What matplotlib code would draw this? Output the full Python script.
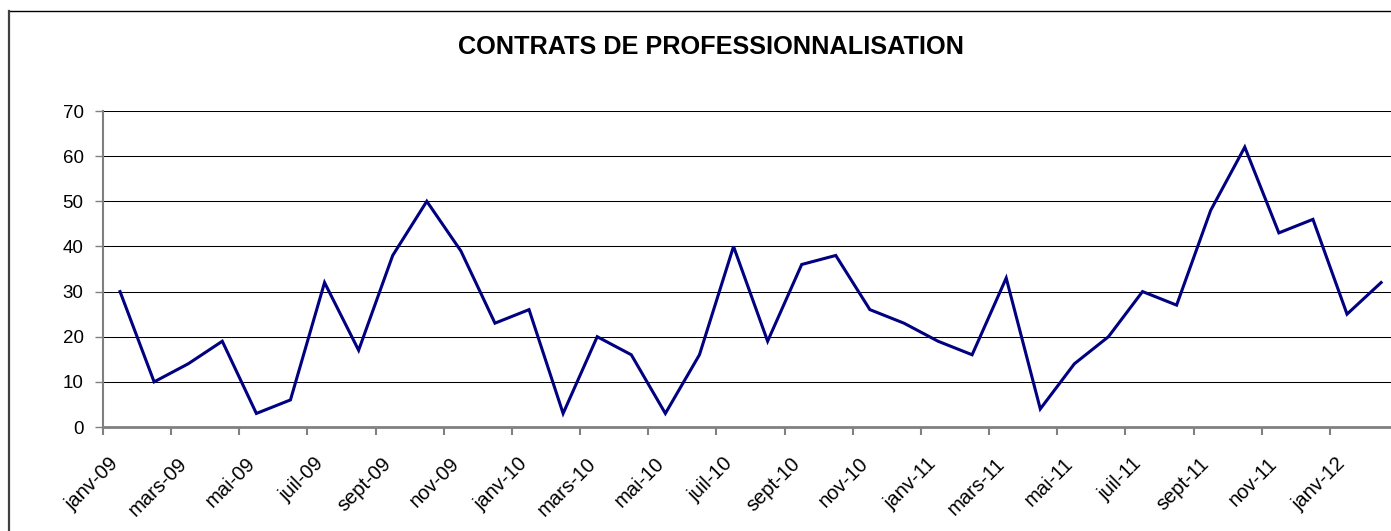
import matplotlib
matplotlib.use("Agg")
import matplotlib.pyplot as plt
import matplotlib.transforms as mtransforms
from matplotlib.lines import Line2D

# monthly values, janv-09 .. fevr-12
months = ["janv-09", "févr-09", "mars-09", "avr-09", "mai-09", "juin-09",
          "juil-09", "août-09", "sept-09", "oct-09", "nov-09", "déc-09",
          "janv-10", "févr-10", "mars-10", "avr-10", "mai-10", "juin-10",
          "juil-10", "août-10", "sept-10", "oct-10", "nov-10", "déc-10",
          "janv-11", "févr-11", "mars-11", "avr-11", "mai-11", "juin-11",
          "juil-11", "août-11", "sept-11", "oct-11", "nov-11", "déc-11",
          "janv-12", "févr-12"]
contrats = [30, 10, 14, 19, 3, 6, 32, 17, 38, 50, 39, 23,
            26, 3, 20, 16, 3, 16, 40, 19, 36, 38, 26, 23,
            19, 16, 33, 4, 14, 20, 30, 27, 48, 62, 43, 46,
            25, 32]
yticks = [0, 10, 20, 30, 40, 50, 60, 70]

plt.rcParams['font.family'] = ['Liberation Sans', 'DejaVu Sans']

def main():
    fig = plt.figure(figsize=(13.91, 5.31), dpi=100)
    ax = fig.add_axes([103/1391, 1 - 427/531, 1 - 103/1391, (427 - 111)/531])

    xs = [i + 0.5 for i in range(len(contrats))]
    ax.plot(xs, contrats, color='#000080', linewidth=2.2, solid_joinstyle='miter',
            clip_on=False)

    ax.set_xlim(0, 37.79)
    ax.set_ylim(0, 70)
    ax.set_yticks(yticks)
    ax.set_yticklabels([str(v) for v in yticks], fontsize=13.5)
    ticks = list(range(0, len(months), 2))
    ax.set_xticks(ticks)
    ax.set_xticklabels([])

    # rotated month labels, ending just right of each tick
    base = mtransforms.blended_transform_factory(ax.transData, ax.transAxes)
    off = mtransforms.ScaledTranslation(6/100, -27/100, fig.dpi_scale_trans)
    for t in ticks:
        ax.text(t, 0, months[t], transform=base + off, fontsize=14.5,
                rotation=45, ha='right', va='top', rotation_mode='anchor',
                clip_on=False)

    ax.grid(axis='y', color='black', linewidth=0.75)
    ax.set_axisbelow(True)
    ax.tick_params(axis='y', direction='out', length=6, width=1, color='#808080',
                   pad=8)
    ax.tick_params(axis='x', direction='out', length=6, width=1.5, color='#808080')
    for s in ['top', 'right']:
        ax.spines[s].set_visible(False)
    ax.spines['left'].set_color('#808080')
    ax.spines['left'].set_linewidth(1.5)
    ax.spines['bottom'].set_color('#808080')
    ax.spines['bottom'].set_linewidth(2)

    fig.text(711/1391, 1 - 54/531, "CONTRATS DE PROFESSIONNALISATION",
             ha='center', va='baseline', fontsize=18.2, fontweight='bold')

    # chart area border (cropped on right and bottom)
    fig.add_artist(Line2D([8.5/1391, 1], [1 - 11/531, 1 - 11/531],
                          transform=fig.transFigure, color='black', linewidth=1))
    fig.add_artist(Line2D([9/1391, 9/1391], [0, 1 - 11/531],
                          transform=fig.transFigure, color='#404040', linewidth=1.6))

    fig.savefig("out.png", dpi=100)

if __name__ == "__main__":
    main()
